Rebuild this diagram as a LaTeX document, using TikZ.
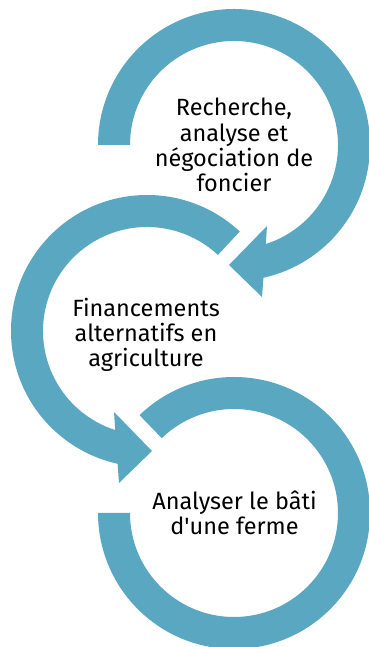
\documentclass[tikz,border=0pt]{standalone}
\usepackage{fontspec}
\setmainfont{Fira Sans}
\definecolor{ringblue}{RGB}{90,167,193}
\begin{document}
\begin{tikzpicture}[x=1pt,y=1pt,
  ring/.style={fill=ringblue, draw=none},
  steplabel/.style={align=center, font=\fontsize{23.5}{25.3}\selectfont, text=black, inner sep=0pt, anchor=base}]
\useasboundingbox (0,0) rectangle (368,647);
% ring 1 (top)
\fill[ring, shift={(234,502)}] (180:136) arc[start angle=180, end angle=-77.5, radius=136]
  -- (28,-152) -- (-5,-120) -- (33,-81)
  -- (-72.2:104) arc[start angle=-72.2, end angle=180, radius=104] -- cycle;
% ring 2 (middle)
\fill[ring, shift={(147,316)}] (47:136) arc[start angle=47, end angle=257.5, radius=136]
  -- (-28,-152) -- (5,-120) -- (-33,-81)
  -- (252.2:104) arc[start angle=252.2, end angle=47, radius=104] -- cycle;
% ring 3 (bottom)
\fill[ring, shift={(234,134)}] (134:136) arc[start angle=134, end angle=-180, radius=136]
  -- (-180:104) arc[start angle=-180, end angle=134, radius=104] -- cycle;
\node[steplabel] (t1) at (234,455.3) {Recherche,\\analyse et\\négociation de\\foncier};
\node[steplabel] (t2) at (146,280.3) {Financements\\alternatifs en\\agriculture};
\node[steplabel] (t3) at (234.5,112) {Analyser le bâti\\d\textquotesingle une ferme};
\end{tikzpicture}
\end{document}
